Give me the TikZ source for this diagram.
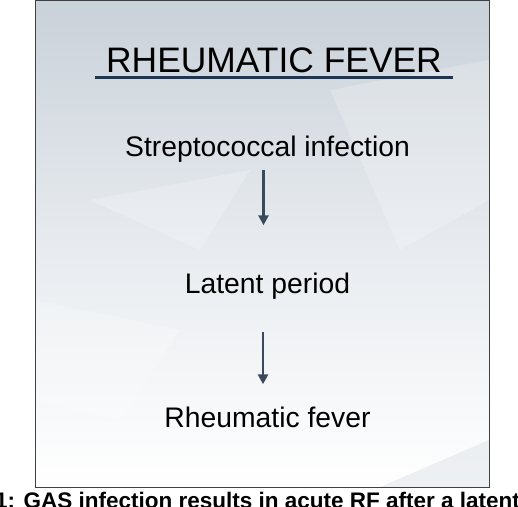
\documentclass[tikz,border=0pt]{standalone}
\usepackage{fontspec}
\setmainfont{Liberation Sans}
\usetikzlibrary{arrows.meta}
\definecolor{bgtop}{HTML}{C9D1D9}
\definecolor{bgmid}{HTML}{E7EBEF}
\definecolor{navy}{HTML}{1E3656}
\definecolor{arrowc}{HTML}{3A4A5D}
\tikzset{
  x=1pt, y=1pt,
  label/.style={inner sep=0pt, anchor=base, font=\fontsize{28.3}{32}\selectfont, text=black},
  titletext/.style={inner sep=0pt, anchor=base, font=\fontsize{35.4}{40}\selectfont, text=black},
  arr/.style={draw=arrowc, line width=2.6pt, -{Triangle[length=10pt,width=10pt]}},
  leaf/.style={fill=white, opacity=0.22, draw=none}
}
\begin{document}
\begin{tikzpicture}
\useasboundingbox (0,0) rectangle (518,-506);
\fill[white] (0,0) rectangle (518,-506);
% background panel
\begin{scope}
\clip (35,0) rectangle (489,-487);
\shade[top color=bgtop, bottom color=white, middle color=bgmid] (35,0) rectangle (489,-487);
\fill[leaf] (330,-90) -- (489,-60) -- (489,-200) -- (400,-250) -- cycle;
\fill[leaf] (35,-300) -- (180,-330) -- (120,-420) -- (35,-400) -- cycle;
\fill[leaf] (90,-200) -- (250,-170) -- (200,-250) -- cycle;
\fill[bgtop, opacity=0.3] (380,-487) -- (489,-440) -- (489,-487) -- cycle;
\end{scope}
\draw[draw=black!75, line width=1pt] (35,0) rectangle (489,-487);
% title
\node[titletext] (title) at (274,-72) {RHEUMATIC FEVER};
\coordinate (ulL) at (95,-77.5);
\coordinate (ulR) at (453,-77.5);
\draw[navy, line width=3pt] (ulL) -- (ulR);
% steps
\node[label] (strep) at (267.5,-156) {Streptococcal infection};
\node[label] (latent) at (267.5,-293) {Latent period};
\node[label] (rf) at (267.5,-427) {Rheumatic fever};
\draw[arr] ([xshift=-4pt,yshift=-8pt]strep.south) -- ([xshift=-4pt,yshift=47pt]latent.north);
\draw[arr] ([xshift=-4.5pt,yshift=-33pt]latent.south) -- ([xshift=-4.5pt,yshift=22pt]rf.north);
% caption (cut off at the bottom edge, as in the reference)
\begin{scope}
\clip (0,-487) rectangle (518,-506);
\node[inner sep=0pt, anchor=base west, font=\bfseries\fontsize{22.5}{26}\selectfont] (cap) at (-5,-508) {1: GAS infection results in acute RF after a latent};
\end{scope}
\end{tikzpicture}
\end{document}
